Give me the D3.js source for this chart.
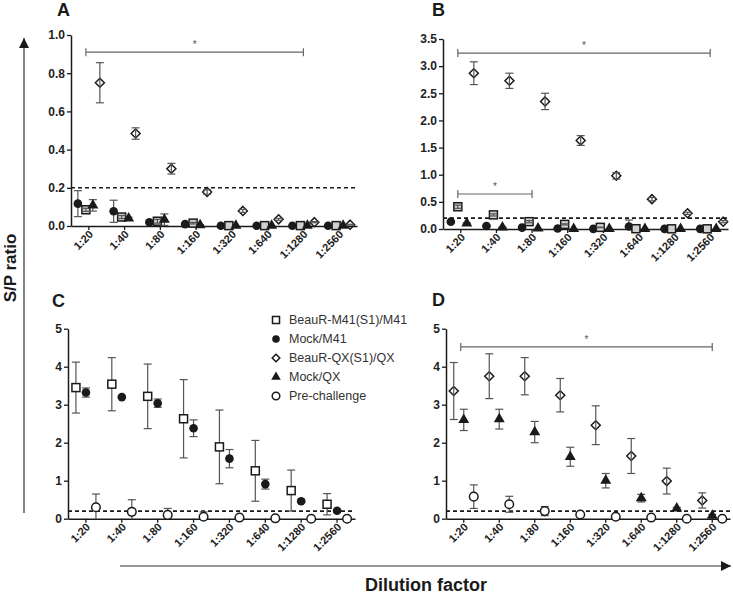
<!DOCTYPE html>
<html><head><meta charset="utf-8">
<script src="https://cdn.jsdelivr.net/npm/d3@7"></script>
<style>body{margin:0;background:#fff} svg{display:block} text{font-family:"Liberation Sans",Arial,sans-serif}</style>
</head><body>
<svg id="c" width="733" height="594"></svg>
<script>
// ---------- data ----------
const dilutions = ["1:20","1:40","1:80","1:160","1:320","1:640","1:1280","1:2560"];
const seriesNames = ["BeauR-M41(S1)/M41","Mock/M41","BeauR-QX(S1)/QX","Mock/QX","Pre-challenge"];
const cutoff = 0.2;

// Panel A
const aMockM41    = [0.117,0.077,0.020,0.010,0.001,0.001,0.001,0.001];
const aMockM41Err = [0.068,0.058,0.004,0.003,0,0,0,0];
const aBeauM41    = [0.085,0.047,0.025,0.015,0.002,0.002,0.002,0.002];
const aBeauM41Err = [0.008,0.008,0.010,0.004,0,0,0,0];
const aMockQX     = [0.108,0.040,0.033,0.005,0.002,0.002,0.002,0.002];
const aMockQXErr  = [0.030,0.006,0.030,0.002,0,0,0,0];
const aBeauQX     = [0.750,0.484,0.300,0.178,0.079,0.035,0.020,0.007];
const aBeauQXErr  = [0.105,0.030,0.028,0.012,0.008,0.005,0.003,0.002];

// Panel B
const bMockM41    = [0.135,0.055,0.025,0.010,0.003,0.045,0.003,0.003];
const bMockM41Err = [0.02,0.01,0.01,0.005,0,0.12,0,0];
const bBeauM41    = [0.41,0.26,0.135,0.085,0.03,0.005,0.003,0.003];
const bBeauM41Err = [0.03,0.02,0.02,0.01,0.005,0,0,0];
const bMockQX     = [0.105,0.030,0.012,0.005,0.003,0.003,0.003,0.003];
const bMockQXErr  = [0.01,0.005,0,0,0,0,0,0];
const bBeauQX     = [2.87,2.73,2.35,1.63,0.98,0.55,0.29,0.135];
const bBeauQXErr  = [0.21,0.14,0.15,0.09,0.06,0.03,0.02,0.02];

// Panel C
const cBeauM41    = [3.45,3.54,3.22,2.63,1.89,1.26,0.74,0.38];
const cBeauM41Err = [0.67,0.70,0.85,1.03,0.97,0.80,0.54,0.28];
const cMockM41    = [3.32,3.20,3.04,2.38,1.58,0.91,0.46,0.21];
const cMockM41Err = [0.12,0.03,0.11,0.22,0.24,0.13,0.04,0.03];
const cPre        = [0.30,0.18,0.10,0.05,0.03,0.01,0.0,0.0];
const cPreErr     = [0.35,0.32,0.17,0.13,0.01,0.01,0,0];

// Panel D
const dBeauQX     = [3.36,3.75,3.75,3.25,2.46,1.65,0.99,0.48];
const dBeauQXErr  = [0.75,0.59,0.49,0.44,0.51,0.46,0.34,0.20];
const dMockQX     = [2.60,2.62,2.28,1.63,1.00,0.54,0.27,0.08];
const dMockQXErr  = [0.28,0.26,0.28,0.25,0.19,0.10,0.03,0.03];
const dPre        = [0.58,0.38,0.20,0.11,0.05,0.03,0.0,0.0];
const dPreErr     = [0.31,0.21,0.12,0.03,0.02,0.01,0,0];

// y ticks
const ticksA = [0,0.2,0.4,0.6,0.8,1.0];
const ticksB = [0,0.5,1.0,1.5,2.0,2.5,3.0,3.5];
const ticksCD = [0,1,2,3,4,5];

// significance bars: [from, to, level]
const sigA = [["1:20","1:1280",0.91]];
const sigB = [["1:20","1:2560",3.24],["1:20","1:80",0.645]];
const sigD = [["1:20","1:2560",4.52]];

// ---------- drawing ----------
const svg = d3.select("#c");
const ink = "#1a1a1a", barGray = "#555";

function diamondPath(r){ return `M0,${-r}L${r},0L0,${r}L${-r},0Z`; }
function marker(g, sym, fill){
  if (sym==="square") return g.append("rect").attr("x",-4).attr("y",-4).attr("width",8).attr("height",8)
      .attr("fill",fill||"#fff").attr("stroke",ink).attr("stroke-width",1.5);
  if (sym==="dot") return g.append("circle").attr("r",4.3).attr("fill",ink);
  if (sym==="diamond") return g.append("path").attr("d",diamondPath(4.5)).attr("fill","none").attr("stroke",ink).attr("stroke-width",1.5);
  if (sym==="triangle") return g.append("path").attr("d",d3.symbol(d3.symbolTriangle,52)()).attr("fill",ink);
  if (sym==="open") return g.append("circle").attr("r",4.3).attr("fill","#fff").attr("stroke",ink).attr("stroke-width",1.5);
}

const panels = [
  {letter:"A", lx:57, ly:16, xr:[71,357], yr:[226,35], max:1.0, ticks:ticksA, fmt:d3.format(".1f"), sig:sigA,
   series:[
     {sym:"dot", off:-11, v:aMockM41, e:aMockM41Err},
     {sym:"square", off:-3, v:aBeauM41, e:aBeauM41Err, fill:"#d0d0d0", top:true},
     {sym:"triangle", off:4, v:aMockQX, e:aMockQXErr},
     {sym:"diamond", off:11, v:aBeauQX, e:aBeauQXErr, top:true}]},
  {letter:"B", lx:432, ly:16, xr:[443,728], yr:[229,39], max:3.5, ticks:ticksB, fmt:d3.format(".1f"), sig:sigB,
   series:[
     {sym:"dot", off:-10, v:bMockM41, e:bMockM41Err},
     {sym:"square", off:-3, v:bBeauM41, e:bBeauM41Err, fill:"#d0d0d0", top:true},
     {sym:"triangle", off:6, v:bMockQX, e:bMockQXErr},
     {sym:"diamond", off:13, v:bBeauQX, e:bBeauQXErr, top:true}]},
  {letter:"C", lx:52, ly:307, xr:[68,355], yr:[518.7,328.7], max:5, ticks:ticksCD, fmt:d3.format("d"), sig:[],
   series:[
     {sym:"square", off:-10, v:cBeauM41, e:cBeauM41Err},
     {sym:"dot", off:0, v:cMockM41, e:cMockM41Err},
     {sym:"open", off:10, v:cPre, e:cPreErr}]},
  {letter:"D", lx:432, ly:306, xr:[446,730], yr:[518.7,328.7], max:5, ticks:ticksCD, fmt:d3.format("d"), sig:sigD,
   series:[
     {sym:"diamond", off:-10, v:dBeauQX, e:dBeauQXErr, top:true},
     {sym:"triangle", off:0, v:dMockQX, e:dMockQXErr},
     {sym:"open", off:10, v:dPre, e:dPreErr}]}
];

const k = Math.SQRT1_2;
panels.forEach(p => {
  const x = d3.scaleBand().domain(dilutions).range(p.xr);
  const cx = c => x(c) + x.bandwidth()/2;
  const y = d3.scaleLinear().domain([0,p.max]).range(p.yr);
  const g = svg.append("g");

  g.append("text").attr("x",p.lx).attr("y",p.ly).text(p.letter)
    .attr("font-size",18).attr("font-weight","bold").attr("fill",ink);

  // cutoff line
  g.append("line").attr("x1",p.xr[0]).attr("x2",p.xr[1]).attr("y1",y(cutoff)).attr("y2",y(cutoff))
    .attr("stroke",ink).attr("stroke-width",1.6).attr("stroke-dasharray","4,3");

  // y axis
  const ya = g.append("g").attr("transform",`translate(${p.xr[0]},0)`)
    .call(d3.axisLeft(y).tickValues(p.ticks).tickFormat(p.fmt).tickSize(4).tickSizeOuter(0).tickPadding(2));
  ya.select(".domain").attr("stroke",ink).attr("stroke-width",1.5);
  ya.selectAll(".tick line").attr("stroke",ink).attr("stroke-width",1.3);
  ya.selectAll("text").attr("font-size",12).attr("font-weight","bold").attr("fill","#222");

  // x axis (labels drawn separately, rotated -45 via matrix)
  const xa = g.append("g").attr("transform",`translate(0,${p.yr[0]})`)
    .call(d3.axisBottom(x).tickSize(4).tickSizeOuter(0).tickFormat(""));
  xa.select(".domain").attr("stroke",ink).attr("stroke-width",1.6);
  xa.selectAll(".tick line").attr("stroke",ink).attr("stroke-width",1.3);
  g.selectAll("text.xl").data(dilutions).enter().append("text").attr("class","xl")
    .attr("transform", d => `matrix(${k},${-k},${k},${k},${cx(d)+5},${p.yr[0]+9})`)
    .attr("text-anchor","end")
    .attr("font-size",11).attr("font-weight","bold").attr("fill","#222").text(d => d);

  // significance bars
  p.sig.forEach(s => {
    const x1 = cx(s[0]) - 3, x2 = cx(s[1]), yy = y(s[2]);
    const sg = g.append("g").attr("stroke","#666").attr("stroke-width",1.2);
    sg.append("line").attr("x1",x1).attr("x2",x2).attr("y1",yy).attr("y2",yy);
    sg.append("line").attr("x1",x1).attr("x2",x1).attr("y1",yy-4).attr("y2",yy+4);
    sg.append("line").attr("x1",x2).attr("x2",x2).attr("y1",yy-4).attr("y2",yy+4);
    g.append("text").attr("x",(x1+x2)/2).attr("y",yy-4).attr("text-anchor","middle")
      .attr("font-size",10).attr("fill","#555").text("*");
  });

  function errBars(s){
    dilutions.forEach((c,i) => {
      if (!s.e[i]) return;
      const px = cx(c) + s.off;
      const lo = Math.max(0, s.v[i]-s.e[i]), hi = s.v[i]+s.e[i];
      const eg = g.append("g").attr("stroke",barGray).attr("stroke-width",1.2);
      eg.append("line").attr("x1",px).attr("x2",px).attr("y1",y(lo)).attr("y2",y(hi));
      eg.append("line").attr("x1",px-4).attr("x2",px+4).attr("y1",y(hi)).attr("y2",y(hi));
      if (lo>0) eg.append("line").attr("x1",px-4).attr("x2",px+4).attr("y1",y(lo)).attr("y2",y(lo));
    });
  }
  p.series.forEach(s => {
    if (!s.top) errBars(s);
    dilutions.forEach((c,i) => {
      const mg = g.append("g").attr("transform",`translate(${cx(c)+s.off},${y(s.v[i])})`);
      marker(mg, s.sym, s.fill);
    });
    if (s.top) errBars(s);
  });
});

// legend
const legSyms = ["square","dot","diamond","triangle","open"];
const legY = d3.scalePoint().domain(seriesNames).range([320,396]);
seriesNames.forEach((n,i) => {
  const lg = svg.append("g").attr("transform",`translate(276,${legY(n)})`);
  const m = marker(lg, legSyms[i]);
  if (legSyms[i]==="diamond") m.attr("d",diamondPath(3.8));
  if (legSyms[i]==="square") m.attr("x",-3.5).attr("y",-3.5).attr("width",7).attr("height",7);
  if (legSyms[i]==="dot"||legSyms[i]==="open") m.attr("r",3.8);
  if (legSyms[i]==="triangle") m.attr("d",d3.symbol(d3.symbolTriangle,40)());
  svg.append("text").attr("x",289).attr("y",legY(n)).attr("dy","0.35em")
    .attr("font-size",12.5).attr("fill","#333").text(n);
});

// axis titles with arrows
svg.append("defs").append("marker").attr("id","ah").attr("viewBox","0 0 10 10")
  .attr("refX",10).attr("refY",5).attr("markerWidth",10).attr("markerHeight",10)
  .attr("markerUnits","userSpaceOnUse").attr("orient","auto")
  .append("path").attr("d","M0,0L10,5L0,10Z").attr("fill",ink);
svg.append("line").attr("x1",24).attr("x2",24).attr("y1",513).attr("y2",38)
  .attr("stroke","#333").attr("stroke-width",1.2).attr("marker-end","url(#ah)");
svg.append("text").attr("transform","translate(16,268) rotate(-90)").attr("text-anchor","middle")
  .attr("font-size",17).attr("font-weight","bold").attr("fill",ink).text("S/P ratio");
svg.append("line").attr("x1",120).attr("x2",731).attr("y1",566).attr("y2",566)
  .attr("stroke","#333").attr("stroke-width",1.2).attr("marker-end","url(#ah)");
svg.append("text").attr("x",426).attr("y",591).attr("text-anchor","middle")
  .attr("font-size",18).attr("font-weight","bold").attr("fill",ink).text("Dilution factor");
</script>
</body></html>
